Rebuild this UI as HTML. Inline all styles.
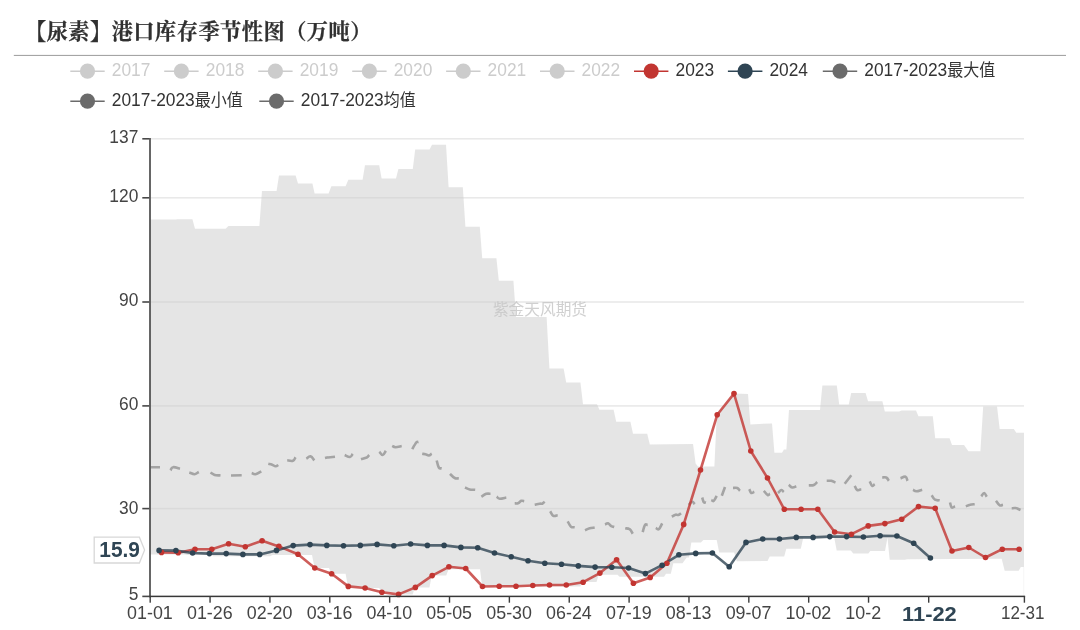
<!DOCTYPE html><html lang="zh"><head><meta charset="utf-8"><title>【尿素】港口库存季节性图（万吨）</title>
<style>html,body{margin:0;padding:0;background:#fff}body{width:1080px;height:630px;overflow:hidden}svg{display:block}text{font-family:"Liberation Sans","Noto Sans CJK SC",sans-serif}.t{font-family:"Liberation Serif","Noto Serif CJK SC",serif;font-weight:bold}</style></head><body>
<svg width="1080" height="630" viewBox="0 0 1080 630">
<rect width="1080" height="630" fill="#fff"/>
<text class="t" x="24.9" y="39.2" font-size="21.2" letter-spacing="0.5" fill="#303030" stroke="#303030" stroke-width="0.25">【尿素】港口库存季节性图（万吨）</text>
<rect x="13.8" y="54.9" width="1052.2" height="1" fill="#9c9c9c"/>
<g><line x1="70.3" y1="71.2" x2="104.7" y2="71.2" stroke="#ccc" stroke-width="1.5"/>
<circle cx="87.5" cy="71.2" r="7.6" fill="#ccc"/>
<text transform="translate(111.8,75.5) scale(0.943,1)" font-size="18.4" text-anchor="start" fill="#ccc">2017</text></g>
<g><line x1="164.2" y1="71.2" x2="198.6" y2="71.2" stroke="#ccc" stroke-width="1.5"/>
<circle cx="181.4" cy="71.2" r="7.6" fill="#ccc"/>
<text transform="translate(205.8,75.5) scale(0.943,1)" font-size="18.4" text-anchor="start" fill="#ccc">2018</text></g>
<g><line x1="258.2" y1="71.2" x2="292.6" y2="71.2" stroke="#ccc" stroke-width="1.5"/>
<circle cx="275.4" cy="71.2" r="7.6" fill="#ccc"/>
<text transform="translate(299.7,75.5) scale(0.943,1)" font-size="18.4" text-anchor="start" fill="#ccc">2019</text></g>
<g><line x1="352.2" y1="71.2" x2="386.6" y2="71.2" stroke="#ccc" stroke-width="1.5"/>
<circle cx="369.4" cy="71.2" r="7.6" fill="#ccc"/>
<text transform="translate(393.7,75.5) scale(0.943,1)" font-size="18.4" text-anchor="start" fill="#ccc">2020</text></g>
<g><line x1="446.1" y1="71.2" x2="480.5" y2="71.2" stroke="#ccc" stroke-width="1.5"/>
<circle cx="463.3" cy="71.2" r="7.6" fill="#ccc"/>
<text transform="translate(487.6,75.5) scale(0.943,1)" font-size="18.4" text-anchor="start" fill="#ccc">2021</text></g>
<g><line x1="540.0" y1="71.2" x2="574.5" y2="71.2" stroke="#ccc" stroke-width="1.5"/>
<circle cx="557.2" cy="71.2" r="7.6" fill="#ccc"/>
<text transform="translate(581.5,75.5) scale(0.943,1)" font-size="18.4" text-anchor="start" fill="#ccc">2022</text></g>
<g><line x1="634.0" y1="71.2" x2="668.4" y2="71.2" stroke="#c23531" stroke-width="1.5"/>
<circle cx="651.2" cy="71.2" r="7.6" fill="#c23531"/>
<text transform="translate(675.5,75.5) scale(0.943,1)" font-size="18.4" text-anchor="start" fill="#333">2023</text></g>
<g><line x1="727.9" y1="71.2" x2="762.4" y2="71.2" stroke="#2f4554" stroke-width="1.5"/>
<circle cx="745.1" cy="71.2" r="7.6" fill="#2f4554"/>
<text transform="translate(769.4,75.5) scale(0.943,1)" font-size="18.4" text-anchor="start" fill="#333">2024</text></g>
<g><line x1="822.8" y1="71.2" x2="857.2" y2="71.2" stroke="#6b6b6b" stroke-width="1.5"/>
<circle cx="840.0" cy="71.2" r="7.6" fill="#6b6b6b"/>
<text transform="translate(864.3,75.5) scale(0.943,1)" font-size="18.4" text-anchor="start" fill="#333">2017-2023<tspan font-size="17">最大值</tspan></text></g>
<g><line x1="70.3" y1="101.2" x2="104.7" y2="101.2" stroke="#6b6b6b" stroke-width="1.5"/>
<circle cx="87.5" cy="101.2" r="7.6" fill="#6b6b6b"/>
<text transform="translate(111.8,105.5) scale(0.943,1)" font-size="18.4" text-anchor="start" fill="#333">2017-2023<tspan font-size="17">最小值</tspan></text></g>
<g><line x1="259.3" y1="101.2" x2="293.7" y2="101.2" stroke="#6b6b6b" stroke-width="1.5"/>
<circle cx="276.5" cy="101.2" r="7.6" fill="#6b6b6b"/>
<text transform="translate(300.8,105.5) scale(0.943,1)" font-size="18.4" text-anchor="start" fill="#333">2017-2023<tspan font-size="17">均值</tspan></text></g>
<rect x="151" y="138.0" width="873" height="1.6" fill="#e9e9e9"/>
<rect x="151" y="197.0" width="873" height="1.6" fill="#e9e9e9"/>
<rect x="151" y="301.2" width="873" height="1.6" fill="#e9e9e9"/>
<rect x="151" y="405.1" width="873" height="1.6" fill="#e9e9e9"/>
<rect x="151" y="507.8" width="873" height="1.6" fill="#e9e9e9"/>
<polygon points="150.0,219.6 176.0,219.6 177.0,219.2 192.4,219.2 195.0,228.8 225.6,228.8 228.4,226.0 259.4,226.0 262.0,191.0 276.6,191.0 279.0,175.6 295.6,175.6 298.0,183.4 312.4,183.4 314.6,193.4 328.6,193.4 331.4,186.2 345.6,186.2 348.4,179.8 362.6,179.8 365.0,165.2 379.2,165.2 381.6,178.6 396.0,178.6 398.4,169.0 412.8,169.0 415.2,149.6 429.6,149.6 432.0,144.8 446.0,144.8 448.6,187.2 462.8,187.2 465.4,226.8 479.8,226.8 482.2,258.2 496.4,258.2 498.8,280.8 513.4,280.8 516.0,317.0 546.6,317.0 549.4,368.4 563.6,368.4 566.2,382.6 580.4,382.6 583.0,404.2 597.0,404.2 599.4,409.8 613.6,409.8 616.2,421.8 630.4,421.8 633.0,433.8 647.2,433.8 649.8,444.6 693.0,444.0 695.6,463.6 698.0,466.4 714.4,466.4 716.8,414.8 733.7,393.6 748.0,394.0 750.4,424.4 772.0,423.4 774.4,452.8 782.0,452.8 784.0,449.4 786.4,449.4 789.0,410.0 820.0,410.0 822.4,385.4 836.8,385.4 839.2,404.4 848.8,404.4 851.2,393.0 865.6,393.0 868.0,401.2 882.4,401.2 884.8,411.6 899.2,411.6 901.6,410.4 916.0,410.4 918.4,416.2 932.8,416.2 935.2,438.2 949.6,438.2 952.0,445.0 964.0,445.0 968.4,451.2 980.4,451.2 983.2,406.4 997.0,406.4 999.7,429.0 1013.8,429.0 1016.3,432.8 1024.0,432.8 1024.0,567.0 1020.8,567.0 1018.7,570.8 1004.7,570.8 1001.7,558.8 907.0,559.3 905.0,559.8 889.7,559.8 887.5,537.5 885.0,551.0 870.3,551.0 868.3,553.4 853.3,553.4 850.8,550.5 836.7,550.5 834.2,537.5 803.3,537.5 800.8,548.8 786.3,548.8 784.2,556.4 769.7,556.4 767.5,561.0 736.7,561.3 734.2,552.5 719.2,552.5 716.7,540.0 703.3,540.0 700.8,542.5 691.3,542.5 689.0,557.5 686.7,557.5 682.5,563.3 673.3,563.3 670.8,573.7 666.0,573.7 664.0,576.7 619.5,576.7 617.5,574.7 598.7,574.7 596.5,582.0 582.7,582.0 580.3,586.5 482.2,586.5 480.0,569.2 448.6,569.2 446.2,575.6 431.8,575.6 429.4,587.4 415.0,587.4 412.6,594.4 398.4,594.4 396.0,592.2 381.6,592.2 379.2,588.0 364.8,588.0 362.4,586.4 348.0,586.4 345.6,573.8 331.4,573.8 329.0,568.0 314.6,568.0 312.0,555.0 272.4,555.0 270.0,556.2 213.4,556.2 211.0,555.0 187.4,555.0 185.0,554.5 150.0,554.5" fill="#ccc" fill-opacity="0.5"/>
<rect x="1023.4" y="567" width="0.8" height="29" fill="#f3f3f3"/>
<text x="540" y="315" font-size="15.7" text-anchor="middle" fill="#c4c4c4" fill-opacity="0.8">紫金天风期货</text>
<path d="M150.5,467.2 L160.0,467.2 M170.5,470.3 C171.0,469.7 171.1,467.5 173.0,467.2 C174.9,466.8 178.6,468.4 180.0,468.7 M189.3,472.5 C190.4,472.8 192.8,474.3 194.7,474.2 C196.6,474.1 198.0,472.4 198.8,472.0 M210.5,472.5 C211.3,473.0 212.7,474.4 214.7,475.0 C216.7,475.6 219.3,475.3 220.5,475.3 M231.0,475.5 L241.7,475.3 M251.7,473.0 C252.4,473.2 253.6,474.5 255.5,474.2 C257.4,473.8 260.2,471.9 261.3,471.3 M268.3,463.8 C269.1,464.0 270.7,464.2 272.2,464.7 C273.6,465.2 274.3,466.3 275.5,466.3 C276.7,466.4 277.8,465.3 278.3,465.0 M287.2,460.3 C288.3,460.4 291.3,461.5 293.0,460.8 C294.7,460.2 295.0,457.9 295.5,457.2 M306.3,458.7 C307.2,458.2 308.9,456.0 310.5,456.3 C312.1,456.7 313.6,459.5 314.3,460.3 M325.0,458.0 L328.0,457.2 M328.0,457.5 L335.0,456.7 M344.7,455.0 C345.7,455.4 348.4,457.2 350.0,457.0 C351.6,456.8 352.1,454.5 352.7,453.8 M361.0,459.2 C362.1,458.8 365.0,458.3 366.7,457.5 C368.3,456.7 368.7,455.5 369.2,455.0 M379.3,451.7 C380.0,452.3 381.4,455.2 382.7,455.0 C384.0,454.8 385.2,451.7 385.8,450.8 M392.2,445.8 C392.8,446.1 393.6,447.1 395.5,447.2 C397.4,447.2 400.4,446.2 401.7,446.0 M412.2,449.2 C413.0,447.8 415.1,443.9 416.3,442.5 C417.6,441.1 418.1,442.1 418.5,442.0 M422.2,453.8 C422.8,453.9 424.2,453.8 425.5,454.2 C426.8,454.5 427.6,455.6 428.8,455.5 C430.1,455.4 431.1,454.0 431.7,453.7 M436.7,460.5 C437.1,461.9 437.8,465.9 438.8,467.5 C439.8,469.1 441.1,468.2 441.7,468.3 M450.0,473.8 C450.9,474.7 452.9,477.1 454.7,478.0 C456.4,478.9 458.0,478.3 458.8,478.3 M465.0,487.5 C465.9,487.9 467.6,489.1 469.7,489.5 C471.7,489.9 474.1,489.6 475.2,489.7 M481.3,496.7 C482.3,496.1 484.5,494.4 486.3,493.8 C488.2,493.3 489.7,493.8 490.5,493.8 M496.7,496.7 C497.3,497.1 497.7,498.5 499.7,498.7 C501.6,498.8 505.0,497.7 506.3,497.5 M514.7,503.3 C515.3,503.3 516.7,503.8 518.0,503.3 C519.3,502.8 520.1,501.3 521.3,500.8 C522.6,500.4 523.6,501.1 524.2,501.2 M534.7,504.7 C535.7,504.5 538.2,503.9 539.7,503.7 C541.2,503.5 541.2,504.1 542.2,503.7 C543.2,503.3 544.2,502.1 544.7,501.7 M550.2,511.3 C550.8,512.2 551.8,515.0 553.3,515.8 C554.8,516.6 556.8,515.4 557.7,515.3 M567.7,521.3 C568.3,522.4 569.6,525.5 571.0,526.7 C572.4,527.8 573.9,527.1 574.7,527.2 M585.0,530.3 C585.9,529.9 587.7,528.9 589.7,528.3 C591.6,527.8 593.7,527.7 594.7,527.5 M605.0,524.5 C605.6,524.3 606.7,523.0 608.0,523.3 C609.3,523.7 610.1,525.4 611.3,526.2 C612.6,526.9 613.6,526.8 614.2,527.0 M625.2,528.3 C626.1,528.5 628.2,528.1 629.7,529.2 C631.2,530.2 632.1,532.8 632.7,533.7 M642.7,532.2 C643.1,530.7 644.0,526.4 645.0,525.0 C646.0,523.6 647.1,525.0 647.7,525.0 M655.8,527.8 C656.4,528.1 657.6,530.1 658.8,529.2 C660.1,528.3 661.5,524.5 662.2,523.3 M671.8,516.7 C672.6,516.3 674.2,515.0 675.5,514.7 C676.8,514.3 677.2,515.3 678.3,515.0 C679.4,514.7 680.5,513.7 681.0,513.3 M688.8,505.0 C689.5,504.3 691.0,501.8 692.2,501.7 C693.3,501.5 694.2,503.7 694.7,504.2 M702.2,497.5 C702.5,498.4 703.1,501.2 703.8,502.2 C704.6,503.2 705.6,502.4 706.0,502.5 M711.3,500.0 C711.8,500.2 712.8,501.7 713.8,500.8 C714.9,500.0 716.1,496.8 716.7,495.8 M721.8,495.8 L725.0,487.0 M733.0,488.0 C733.8,488.0 735.8,487.4 737.2,488.0 C738.6,488.6 739.4,490.3 740.0,490.8 M749.3,489.2 C749.7,489.9 750.3,492.5 751.3,493.0 C752.3,493.5 753.7,491.9 754.3,491.7 M763.8,490.8 C764.6,491.7 766.4,494.4 767.7,495.0 C768.9,495.6 769.5,493.9 770.0,493.7 M778.0,493.0 C778.7,492.4 780.2,490.2 781.3,490.0 C782.5,489.8 783.3,491.6 783.8,492.0 M788.8,484.7 C789.5,485.2 790.7,487.2 792.2,487.5 C793.7,487.8 795.5,486.6 796.3,486.3 M808.8,485.3 C809.8,485.3 812.2,485.7 813.8,485.0 C815.5,484.3 816.5,482.6 817.2,482.0 M826.7,480.8 C827.6,480.8 829.6,480.5 831.3,480.8 C833.1,481.2 834.7,482.2 835.5,482.5 M844.7,483.7 L851.3,475.3 M854.7,485.8 C855.2,486.7 855.8,489.3 857.2,490.0 C858.5,490.7 860.5,489.3 861.3,489.2 M869.7,481.3 C870.2,482.2 871.2,485.3 872.2,485.8 C873.2,486.4 874.2,484.5 874.7,484.2 M882.2,477.5 C883.0,477.5 885.0,476.8 886.3,477.5 C887.7,478.2 888.3,480.2 888.8,480.8 M900.5,478.3 C901.5,478.0 904.1,476.2 905.5,476.7 C906.9,477.2 907.1,480.0 907.5,480.8 M913.0,489.7 C913.7,490.0 914.5,491.3 916.3,491.3 C918.2,491.3 921.0,490.0 922.2,489.7 M931.7,495.3 C932.3,496.2 933.4,498.7 935.0,499.7 C936.6,500.7 938.7,500.2 939.7,500.3 M950.0,502.5 C950.3,503.5 950.7,506.7 951.7,507.5 C952.7,508.3 954.3,506.6 955.0,506.3 M965.8,506.3 C966.7,506.0 968.2,505.1 970.0,504.7 C971.8,504.2 973.7,504.3 974.7,504.2 M981.3,496.3 C981.9,495.7 983.1,492.9 984.2,493.0 C985.2,493.1 986.2,495.9 986.7,496.7 M996.0,500.8 C996.7,501.7 998.3,504.6 999.7,505.3 C1001.1,506.1 1002.3,504.8 1003.0,504.7 M1011.7,508.3 C1012.4,508.3 1013.7,507.7 1015.5,508.0 C1017.3,508.3 1019.5,509.6 1020.5,510.0" fill="none" stroke="#a4a4a4" stroke-width="2.6" stroke-linecap="butt" stroke-linejoin="round"/>
<polyline points="161.5,552.4 178.2,552.8 195.0,549.2 211.8,549.2 228.6,543.8 245.3,546.8 262.1,540.8 278.9,546.4 298.0,554.2 314.8,568.0 331.6,573.8 348.3,586.4 365.1,588.0 381.9,592.2 398.6,594.4 415.4,587.4 432.2,575.6 448.9,566.8 465.7,568.5 482.5,586.5 499.2,586.3 516.0,586.3 532.8,585.5 549.5,585.0 566.3,585.0 583.1,582.2 599.9,573.1 616.6,559.8 633.4,583.2 650.2,577.4 666.9,563.2 683.7,524.4 700.5,470.0 717.2,414.8 734.0,393.6 750.8,451.0 767.5,478.0 784.3,509.3 801.1,509.3 817.8,509.3 834.6,532.0 851.4,534.2 868.2,525.9 884.9,523.6 901.7,519.2 918.5,506.6 935.2,508.3 952.0,551.0 968.8,547.5 985.5,557.5 1002.3,549.2 1019.1,549.2" fill="none" stroke="#c23531" stroke-opacity="0.8" stroke-width="2.6" stroke-linejoin="round"/>
<polyline points="159.1,550.4 175.9,550.6 192.6,553.0 209.4,553.6 226.2,553.6 242.9,554.4 259.7,554.4 276.5,550.4 293.2,545.6 310.0,544.6 326.8,545.4 343.5,545.8 360.3,545.4 377.1,544.4 393.8,545.8 410.6,544.0 427.4,545.4 444.1,545.4 460.9,547.4 477.7,547.8 494.5,553.0 511.2,556.8 528.0,560.7 544.8,563.2 561.5,564.2 578.3,565.9 595.1,567.1 611.8,567.3 628.6,568.0 645.4,573.6 662.1,565.2 678.9,554.8 695.7,553.4 712.4,553.0 729.2,566.8 746.0,542.4 762.7,539.0 779.5,539.0 796.3,537.4 813.1,537.4 829.8,536.6 846.6,536.6 863.4,537.0 880.1,535.8 896.9,536.0 913.7,543.2 930.4,558.0" fill="none" stroke="#2f4554" stroke-opacity="0.8" stroke-width="2.6" stroke-linejoin="round"/>
<g fill="#c23531"><circle cx="161.5" cy="552.4" r="2.8"/><circle cx="178.2" cy="552.8" r="2.8"/><circle cx="195.0" cy="549.2" r="2.8"/><circle cx="211.8" cy="549.2" r="2.8"/><circle cx="228.6" cy="543.8" r="2.8"/><circle cx="245.3" cy="546.8" r="2.8"/><circle cx="262.1" cy="540.8" r="2.8"/><circle cx="278.9" cy="546.4" r="2.8"/><circle cx="298.0" cy="554.2" r="2.8"/><circle cx="314.8" cy="568.0" r="2.8"/><circle cx="331.6" cy="573.8" r="2.8"/><circle cx="348.3" cy="586.4" r="2.8"/><circle cx="365.1" cy="588.0" r="2.8"/><circle cx="381.9" cy="592.2" r="2.8"/><circle cx="398.6" cy="594.4" r="2.8"/><circle cx="415.4" cy="587.4" r="2.8"/><circle cx="432.2" cy="575.6" r="2.8"/><circle cx="448.9" cy="566.8" r="2.8"/><circle cx="465.7" cy="568.5" r="2.8"/><circle cx="482.5" cy="586.5" r="2.8"/><circle cx="499.2" cy="586.3" r="2.8"/><circle cx="516.0" cy="586.3" r="2.8"/><circle cx="532.8" cy="585.5" r="2.8"/><circle cx="549.5" cy="585.0" r="2.8"/><circle cx="566.3" cy="585.0" r="2.8"/><circle cx="583.1" cy="582.2" r="2.8"/><circle cx="599.9" cy="573.1" r="2.8"/><circle cx="616.6" cy="559.8" r="2.8"/><circle cx="633.4" cy="583.2" r="2.8"/><circle cx="650.2" cy="577.4" r="2.8"/><circle cx="666.9" cy="563.2" r="2.8"/><circle cx="683.7" cy="524.4" r="2.8"/><circle cx="700.5" cy="470.0" r="2.8"/><circle cx="717.2" cy="414.8" r="2.8"/><circle cx="734.0" cy="393.6" r="2.8"/><circle cx="750.8" cy="451.0" r="2.8"/><circle cx="767.5" cy="478.0" r="2.8"/><circle cx="784.3" cy="509.3" r="2.8"/><circle cx="801.1" cy="509.3" r="2.8"/><circle cx="817.8" cy="509.3" r="2.8"/><circle cx="834.6" cy="532.0" r="2.8"/><circle cx="851.4" cy="534.2" r="2.8"/><circle cx="868.2" cy="525.9" r="2.8"/><circle cx="884.9" cy="523.6" r="2.8"/><circle cx="901.7" cy="519.2" r="2.8"/><circle cx="918.5" cy="506.6" r="2.8"/><circle cx="935.2" cy="508.3" r="2.8"/><circle cx="952.0" cy="551.0" r="2.8"/><circle cx="968.8" cy="547.5" r="2.8"/><circle cx="985.5" cy="557.5" r="2.8"/><circle cx="1002.3" cy="549.2" r="2.8"/><circle cx="1019.1" cy="549.2" r="2.8"/></g>
<g fill="#2f4554"><circle cx="159.1" cy="550.4" r="2.8"/><circle cx="175.9" cy="550.6" r="2.8"/><circle cx="192.6" cy="553.0" r="2.8"/><circle cx="209.4" cy="553.6" r="2.8"/><circle cx="226.2" cy="553.6" r="2.8"/><circle cx="242.9" cy="554.4" r="2.8"/><circle cx="259.7" cy="554.4" r="2.8"/><circle cx="276.5" cy="550.4" r="2.8"/><circle cx="293.2" cy="545.6" r="2.8"/><circle cx="310.0" cy="544.6" r="2.8"/><circle cx="326.8" cy="545.4" r="2.8"/><circle cx="343.5" cy="545.8" r="2.8"/><circle cx="360.3" cy="545.4" r="2.8"/><circle cx="377.1" cy="544.4" r="2.8"/><circle cx="393.8" cy="545.8" r="2.8"/><circle cx="410.6" cy="544.0" r="2.8"/><circle cx="427.4" cy="545.4" r="2.8"/><circle cx="444.1" cy="545.4" r="2.8"/><circle cx="460.9" cy="547.4" r="2.8"/><circle cx="477.7" cy="547.8" r="2.8"/><circle cx="494.5" cy="553.0" r="2.8"/><circle cx="511.2" cy="556.8" r="2.8"/><circle cx="528.0" cy="560.7" r="2.8"/><circle cx="544.8" cy="563.2" r="2.8"/><circle cx="561.5" cy="564.2" r="2.8"/><circle cx="578.3" cy="565.9" r="2.8"/><circle cx="595.1" cy="567.1" r="2.8"/><circle cx="611.8" cy="567.3" r="2.8"/><circle cx="628.6" cy="568.0" r="2.8"/><circle cx="645.4" cy="573.6" r="2.8"/><circle cx="662.1" cy="565.2" r="2.8"/><circle cx="678.9" cy="554.8" r="2.8"/><circle cx="695.7" cy="553.4" r="2.8"/><circle cx="712.4" cy="553.0" r="2.8"/><circle cx="729.2" cy="566.8" r="2.8"/><circle cx="746.0" cy="542.4" r="2.8"/><circle cx="762.7" cy="539.0" r="2.8"/><circle cx="779.5" cy="539.0" r="2.8"/><circle cx="796.3" cy="537.4" r="2.8"/><circle cx="813.1" cy="537.4" r="2.8"/><circle cx="829.8" cy="536.6" r="2.8"/><circle cx="846.6" cy="536.6" r="2.8"/><circle cx="863.4" cy="537.0" r="2.8"/><circle cx="880.1" cy="535.8" r="2.8"/><circle cx="896.9" cy="536.0" r="2.8"/><circle cx="913.7" cy="543.2" r="2.8"/><circle cx="930.4" cy="558.0" r="2.8"/></g>
<rect x="149.15" y="138" width="1.7" height="459.4" fill="#4d4d4d"/>
<rect x="149.2" y="595.65" width="875.9" height="1.5" fill="#383838"/>
<rect x="142.3" y="138.00" width="7" height="1.6" fill="#484848"/>
<text transform="translate(138.3,142.9) scale(0.943,1)" font-size="18.4" text-anchor="end" fill="#444">137</text>
<rect x="142.3" y="197.00" width="7" height="1.6" fill="#484848"/>
<text transform="translate(138.3,201.8) scale(0.943,1)" font-size="18.4" text-anchor="end" fill="#444">120</text>
<rect x="142.3" y="301.20" width="7" height="1.6" fill="#484848"/>
<text transform="translate(138.3,305.9) scale(0.943,1)" font-size="18.4" text-anchor="end" fill="#444">90</text>
<rect x="142.3" y="405.10" width="7" height="1.6" fill="#484848"/>
<text transform="translate(138.3,409.9) scale(0.943,1)" font-size="18.4" text-anchor="end" fill="#444">60</text>
<rect x="142.3" y="507.80" width="7" height="1.6" fill="#484848"/>
<text transform="translate(138.3,513.8) scale(0.943,1)" font-size="18.4" text-anchor="end" fill="#444">30</text>
<rect x="142.3" y="595.60" width="7" height="1.6" fill="#484848"/>
<text transform="translate(138.3,599.6) scale(0.943,1)" font-size="18.4" text-anchor="end" fill="#444">5</text>
<rect x="149.50" y="596" width="1.4" height="6.7" fill="#3c3c3c"/>
<text transform="translate(149.9,619.0) scale(0.972,1)" font-size="18.4" text-anchor="middle" fill="#444">01-01</text>
<rect x="209.36" y="596" width="1.4" height="6.7" fill="#3c3c3c"/>
<text transform="translate(209.8,619.0) scale(0.972,1)" font-size="18.4" text-anchor="middle" fill="#444">01-26</text>
<rect x="269.22" y="596" width="1.4" height="6.7" fill="#3c3c3c"/>
<text transform="translate(269.6,619.0) scale(0.972,1)" font-size="18.4" text-anchor="middle" fill="#444">02-20</text>
<rect x="329.09" y="596" width="1.4" height="6.7" fill="#3c3c3c"/>
<text transform="translate(329.5,619.0) scale(0.972,1)" font-size="18.4" text-anchor="middle" fill="#444">03-16</text>
<rect x="388.95" y="596" width="1.4" height="6.7" fill="#3c3c3c"/>
<text transform="translate(389.3,619.0) scale(0.972,1)" font-size="18.4" text-anchor="middle" fill="#444">04-10</text>
<rect x="448.81" y="596" width="1.4" height="6.7" fill="#3c3c3c"/>
<text transform="translate(449.2,619.0) scale(0.972,1)" font-size="18.4" text-anchor="middle" fill="#444">05-05</text>
<rect x="508.67" y="596" width="1.4" height="6.7" fill="#3c3c3c"/>
<text transform="translate(509.1,619.0) scale(0.972,1)" font-size="18.4" text-anchor="middle" fill="#444">05-30</text>
<rect x="568.54" y="596" width="1.4" height="6.7" fill="#3c3c3c"/>
<text transform="translate(568.9,619.0) scale(0.972,1)" font-size="18.4" text-anchor="middle" fill="#444">06-24</text>
<rect x="628.40" y="596" width="1.4" height="6.7" fill="#3c3c3c"/>
<text transform="translate(628.8,619.0) scale(0.972,1)" font-size="18.4" text-anchor="middle" fill="#444">07-19</text>
<rect x="688.26" y="596" width="1.4" height="6.7" fill="#3c3c3c"/>
<text transform="translate(688.7,619.0) scale(0.972,1)" font-size="18.4" text-anchor="middle" fill="#444">08-13</text>
<rect x="748.12" y="596" width="1.4" height="6.7" fill="#3c3c3c"/>
<text transform="translate(748.5,619.0) scale(0.972,1)" font-size="18.4" text-anchor="middle" fill="#444">09-07</text>
<rect x="807.99" y="596" width="1.4" height="6.7" fill="#3c3c3c"/>
<text transform="translate(808.4,619.0) scale(0.972,1)" font-size="18.4" text-anchor="middle" fill="#444">10-02</text>
<rect x="867.85" y="596" width="1.4" height="6.7" fill="#3c3c3c"/>
<text transform="translate(868.2,619.0) scale(0.972,1)" font-size="18.4" text-anchor="middle" fill="#444">10-27</text>
<rect x="1023.70" y="596" width="1.4" height="6.7" fill="#3c3c3c"/>
<text transform="translate(1022.7,619.0) scale(0.925,1)" font-size="18.4" text-anchor="middle" fill="#444">12-31</text>
<rect x="881" y="603" width="98" height="26" fill="#fff"/>
<rect x="928.00" y="596" width="1.4" height="6.7" fill="#3c3c3c"/>
<text transform="translate(929.4,620.8) scale(1.038,1)" font-size="21.1" text-anchor="middle" fill="#2f4554" font-weight="bold">11-22</text>
<polygon points="94.2,537.2 139.4,537.2 144.6,550.1 139.4,563 94.2,563" fill="#fff" stroke="#d8d8d8" stroke-width="1.3"/>
<text transform="translate(119.6,557.2) scale(0.953,1)" font-size="21.9" text-anchor="middle" fill="#2f4554" font-weight="bold">15.9</text>
</svg></body></html>
